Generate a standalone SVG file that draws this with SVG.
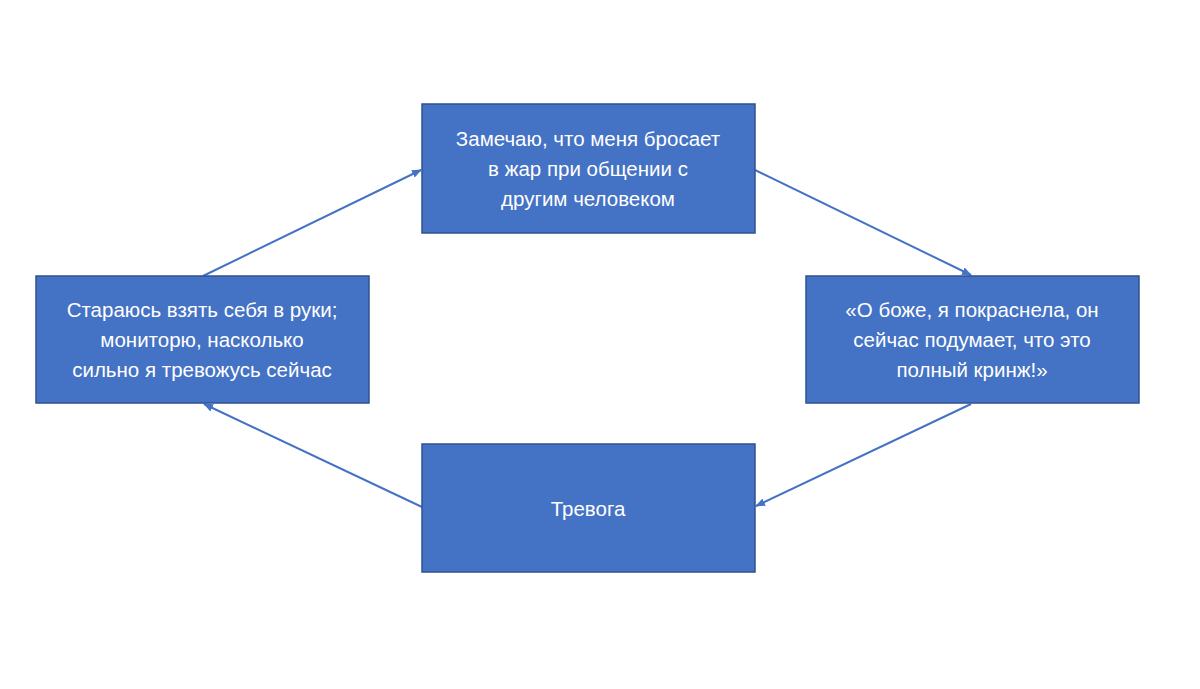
<svg xmlns="http://www.w3.org/2000/svg" width="1200" height="689" viewBox="0 0 1200 689">
<style>
.box{fill:#4472C4;stroke:#2F528F;stroke-width:1.5}
.t{fill:#fff;font-family:"Liberation Sans",Arial,sans-serif;font-size:20.5px;text-anchor:middle}
.c{stroke:#4472C4;stroke-width:2;fill:none;marker-end:url(#a)}
</style>
<defs><marker id="a" markerWidth="10" markerHeight="8" refX="9" refY="4" orient="auto" markerUnits="userSpaceOnUse"><path d="M0,0 L10,4 L0,8 Z" fill="#4472C4"/></marker></defs>
<rect width="1200" height="689" fill="#fff"/>
<g id="connectors">
<line class="c" x1="755" y1="170" x2="971" y2="275"/>
<line class="c" x1="971" y1="404" x2="756" y2="506"/>
<line class="c" x1="422" y1="507" x2="204" y2="404"/>
<line class="c" x1="203" y1="276" x2="421" y2="170"/>
</g>
<g id="top"><rect class="box" x="422" y="104" width="333" height="129"/>
<text class="t" x="588" y="146">Замечаю, что меня бросает</text>
<text class="t" x="588" y="176">в жар при общении с</text>
<text class="t" x="588" y="206">другим человеком</text></g>
<g id="right"><rect class="box" x="806" y="276" width="333" height="127"/>
<text class="t" x="972" y="317">«О боже, я покраснела, он</text>
<text class="t" x="972" y="347">сейчас подумает, что это</text>
<text class="t" x="972" y="377">полный кринж!»</text></g>
<g id="bottom"><rect class="box" x="422" y="444" width="333" height="128"/>
<text class="t" x="588" y="516">Тревога</text></g>
<g id="left"><rect class="box" x="36" y="276" width="333" height="127"/>
<text class="t" x="202" y="317">Стараюсь взять себя в руки;</text>
<text class="t" x="202" y="347">мониторю, насколько</text>
<text class="t" x="202" y="377">сильно я тревожусь сейчас</text></g>
</svg>
